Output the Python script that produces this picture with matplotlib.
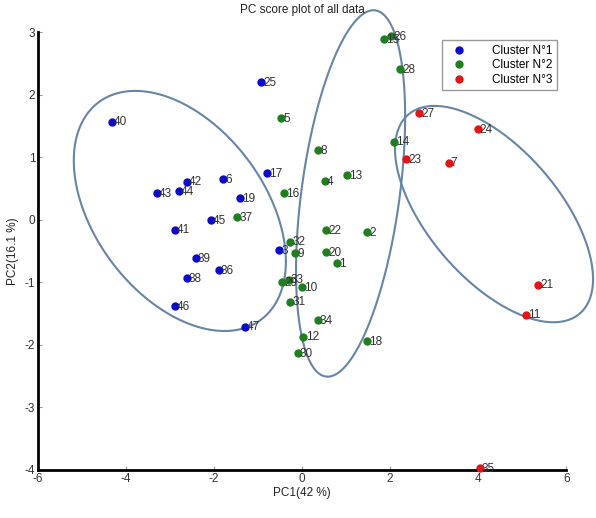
import numpy as np
import matplotlib.pyplot as plt

plt.rcParams['font.family'] = ['Liberation Sans', 'DejaVu Sans']
plt.rcParams['axes.unicode_minus'] = False

# PC scores, one group per cluster
labels1 = ['40', '25', '42', '6', '43', '44', '19', '45', '41', '39', '36', '38', '46', '47', '17', '3']
x1 = [-4.32, -0.93, -2.62, -1.80, -3.30, -2.80, -1.41, -2.07, -2.89, -2.42, -1.90, -2.62, -2.90, -1.31, -0.80, -0.52]
y1 = [1.57, 2.20, 0.61, 0.65, 0.42, 0.46, 0.34, -0.01, -0.16, -0.62, -0.81, -0.94, -1.38, -1.71, 0.74, -0.49]

labels2 = ['15', '26', '28', '5', '8', '14', '13', '4', '16', '37', '22', '2', '32', '9',
           '20', '1', '29', '33', '10', '31', '34', '12', '30', '18']
x2 = [1.86, 2.02, 2.23, -0.48, 0.37, 2.08, 1.02, 0.52, -0.42, -1.48, 0.54, 1.47, -0.27, -0.16,
      0.54, 0.79, -0.46, -0.31, -0.01, -0.27, 0.35, 0.03, -0.10, 1.47]
y2 = [2.89, 2.94, 2.41, 1.62, 1.11, 1.25, 0.71, 0.62, 0.42, 0.04, -0.17, -0.20, -0.35, -0.54,
      -0.52, -0.69, -1.00, -0.96, -1.08, -1.31, -1.61, -1.87, -2.13, -1.94]

labels3 = ['27', '24', '23', '7', '21', '11', '35']
x3 = [2.66, 3.99, 2.36, 3.33, 5.36, 5.08, 4.03]
y3 = [1.70, 1.45, 0.97, 0.91, -1.04, -1.52, -3.97]

cluster_names = ['Cluster N°1', 'Cluster N°2', 'Cluster N°3']
cluster_colors = ['#0a0ac8', '#1f7f1f', '#e01515']

# confidence ellipses: centre x, centre y, half width, half height, correlation
ell_cx = [-2.78, 1.10, 4.36]
ell_cy = [0.14, 0.42, 0.09]
ell_hx = [2.41, 1.24, 2.25]
ell_hy = [1.92, 2.93, 1.73]
ell_rho = [-0.42, 0.42, -0.60]

fig = plt.figure(figsize=(5.96, 5.18), dpi=100)
ax = fig.add_axes([0.064, 0.093, 0.886, 0.845])

groups = [(x1, y1, labels1), (x2, y2, labels2), (x3, y3, labels3)]
for (xs, ys, labs), name, col in zip(groups, cluster_names, cluster_colors):
    ax.plot(xs, ys, 'o', color=col, markersize=5, label=name, clip_on=False, zorder=3)
    for xx, yy, lab in zip(xs, ys, labs):
        ax.annotate(lab, (xx, yy), xytext=(1.5, -0.5), textcoords='offset points',
                    fontsize=8.5, va='center', ha='left', color='#333333', zorder=4)

t = np.linspace(0, 2 * np.pi, 300)
for cx, cy, hx, hy, r in zip(ell_cx, ell_cy, ell_hx, ell_hy, ell_rho):
    ex = cx + hx * np.cos(t)
    ey = cy + hy * (r * np.cos(t) + np.sqrt(1 - r ** 2) * np.sin(t))
    ax.plot(ex, ey, color='#6586a6', lw=1.5, clip_on=False, zorder=2)

ax.set_xlim(-6, 6)
ax.set_ylim(-4, 3)
ax.set_xticks(range(-6, 7, 2))
ax.set_yticks(range(-4, 4))

for s in ['top', 'right']:
    ax.spines[s].set_visible(False)
for s in ['left', 'bottom']:
    ax.spines[s].set_linewidth(2)
ax.tick_params(direction='in', length=3, color='#999999', labelsize=8.5,
               labelcolor='#333333', pad=2)

ax.set_title('PC score plot of all data', fontsize=8.5, pad=14, color='#222222')
ax.set_xlabel('PC1(42 %)', fontsize=8.5, labelpad=2, color='#222222')
ax.set_ylabel('PC2(16.1 %)', fontsize=8.5, labelpad=4, color='#222222')

leg = ax.legend(loc='upper right', bbox_to_anchor=(0.994, 0.995), fontsize=8.5,
                fancybox=False, edgecolor='#999999', framealpha=1,
                handletextpad=1.8, borderpad=0.4, labelspacing=0.2)
leg.get_frame().set_linewidth(1)

plt.savefig('out.png', dpi=100)
